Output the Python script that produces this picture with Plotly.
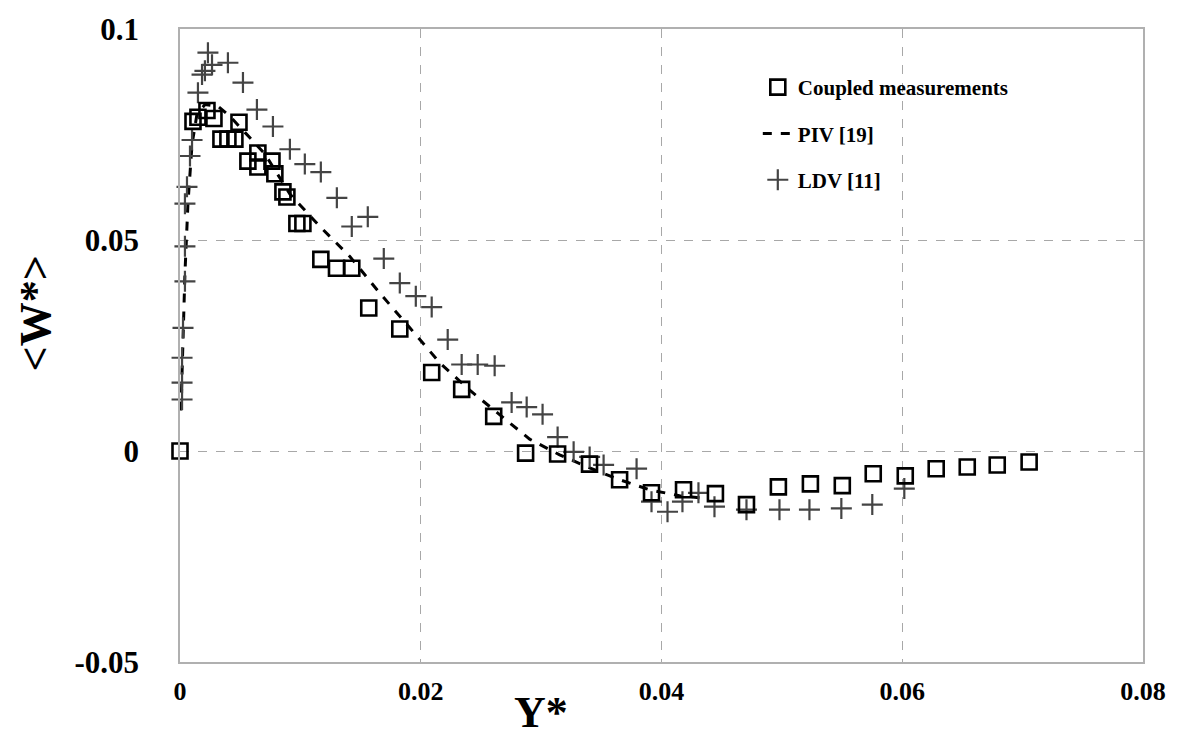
import plotly.graph_objects as go

# Coupled measurements (squares)
coupled_x = [0.0, 0.00108, 0.00149, 0.00224, 0.00282, 0.0034, 0.00398, 0.00456, 0.0049,
             0.00564, 0.00647, 0.00647, 0.00764, 0.00788, 0.00855, 0.00888, 0.00971, 0.01021,
             0.0117, 0.0130, 0.01427, 0.01568, 0.01826, 0.02091, 0.0234, 0.02606, 0.02871,
             0.03137, 0.03402, 0.03652, 0.03917, 0.04183, 0.04448, 0.04706, 0.04971, 0.05237,
             0.05502, 0.05759, 0.06025, 0.06282, 0.0654, 0.06789, 0.07054]
coupled_y = [0.0, 0.0781, 0.0791, 0.0807, 0.0788, 0.0739, 0.0739, 0.0739, 0.0779,
             0.0687, 0.0706, 0.0673, 0.0687, 0.0657, 0.0614, 0.0602, 0.0539, 0.0539,
             0.0454, 0.0433, 0.0433, 0.0339, 0.0289, 0.0186, 0.0146, 0.0082, -0.0005,
             -0.0007, -0.0031, -0.0068, -0.0099, -0.0092, -0.0101, -0.0127, -0.0085, -0.0078,
             -0.0082, -0.0054, -0.0059, -0.0042, -0.0038, -0.0033, -0.0026]

# PIV [19] (dashed line)
piv_x = [0.00008, 0.00025, 0.00041, 0.00066, 0.001, 0.00141, 0.00207, 0.00315, 0.00415,
         0.00539, 0.00705, 0.00913, 0.01162, 0.01411, 0.0166, 0.01909, 0.02158, 0.02407,
         0.02656, 0.02905, 0.03154, 0.03403, 0.03652, 0.03901, 0.0415, 0.04316]
piv_y = [0.0096, 0.0256, 0.0421, 0.0586, 0.0727, 0.0798, 0.0821, 0.0817, 0.0793,
         0.0755, 0.0704, 0.0609, 0.0532, 0.0461, 0.0374, 0.0292, 0.0209, 0.0144,
         0.0087, 0.0028, -0.0009, -0.0040, -0.0068, -0.0092, -0.0106, -0.0111]

# LDV [11] (plus markers)
ldv_x = [0.00017, 0.00017, 0.00017, 0.00025, 0.00041, 0.00041, 0.00041, 0.00058, 0.00083,
         0.001, 0.00149, 0.00183, 0.00207, 0.00266, 0.00232, 0.00398, 0.00523, 0.00639,
         0.00772, 0.00913, 0.01037, 0.0117, 0.01303, 0.01427, 0.0156, 0.01693, 0.01826,
         0.01959, 0.02091, 0.02224, 0.0234, 0.02473, 0.02614, 0.02755, 0.0288, 0.03012,
         0.03137, 0.0327, 0.03403, 0.03519, 0.03793, 0.03917, 0.0405, 0.04174, 0.04307,
         0.0444, 0.04706, 0.0498, 0.05229, 0.05494, 0.05751, 0.06017]
ldv_y = [0.0122, 0.0162, 0.0221, 0.0292, 0.0402, 0.0485, 0.0586, 0.0626, 0.0699,
         0.0737, 0.0849, 0.0892, 0.0901, 0.0915, 0.0944, 0.0920, 0.0873, 0.0809,
         0.0769, 0.0715, 0.0680, 0.0661, 0.0600, 0.0532, 0.0555, 0.0456, 0.0398,
         0.0367, 0.0341, 0.0264, 0.0205, 0.0205, 0.0202, 0.0115, 0.0104, 0.0087,
         0.0033, -0.0002, -0.0014, -0.0033, -0.0042, -0.0120, -0.0144, -0.0120, -0.0099,
         -0.0132, -0.0139, -0.0139, -0.0139, -0.0136, -0.0127, -0.0089]

x_ticks = [0, 0.02, 0.04, 0.06, 0.08]
x_ticktext = ["0", "0.02", "0.04", "0.06", "0.08"]
y_ticks = [-0.05, 0, 0.05, 0.1]
y_ticktext = ["-0.05", "0", "0.05", "0.1"]

FONT = "Liberation Serif"

fig = go.Figure()
fig.add_trace(go.Scatter(
    x=piv_x, y=piv_y, mode="lines", name="PIV [19]", legendgroup="b", legendrank=2,
    line=dict(color="black", width=3, dash="dash"), cliponaxis=False))
fig.add_trace(go.Scatter(
    x=ldv_x, y=ldv_y, mode="markers", name="LDV [11]", legendgroup="c", legendrank=3,
    marker=dict(symbol="cross-thin", size=15, color="#444444",
                line=dict(color="#444444", width=2.2)), cliponaxis=False))
fig.add_trace(go.Scatter(
    x=coupled_x, y=coupled_y, mode="markers", name="Coupled measurements", legendgroup="a",
    legendrank=1,
    marker=dict(symbol="square-open", size=15, color="black",
                line=dict(color="black", width=2.6)), cliponaxis=False))

grid = dict(showgrid=True, gridcolor="#a8a8a8", gridwidth=1, griddash="dash",
            zeroline=False, showline=True, linecolor="#b0b0b0", linewidth=1.5,
            mirror=True, ticks="")

fig.update_xaxes(range=[0, 0.08], tickvals=x_ticks, ticktext=x_ticktext,
                 tickfont=dict(family=FONT, size=26, color="black", weight="bold"),
                 ticklabelstandoff=5, **grid)
fig.update_yaxes(range=[-0.05, 0.1], tickvals=y_ticks, ticktext=y_ticktext,
                 tickfont=dict(family=FONT, size=31, color="black", weight="bold"),
                 ticklabelstandoff=33, **grid)

fig.add_annotation(text="Y*", xref="paper", yref="paper", x=0.375, y=-0.122,
                   xanchor="center", yanchor="bottom", showarrow=False,
                   font=dict(family=FONT, size=44, color="black", weight="bold"))
fig.add_annotation(text="&lt;W*&gt;", xref="paper", yref="paper", x=-0.15, y=0.55,
                   xanchor="center", yanchor="middle", showarrow=False, textangle=-90,
                   font=dict(family=FONT, size=44, color="black", weight="bold"))

fig.update_layout(
    width=1190, height=742,
    margin=dict(l=180, r=47, t=24, b=80),
    paper_bgcolor="white", plot_bgcolor="white",
    showlegend=True,
    legend=dict(x=0.6, y=0.94, xanchor="left", yanchor="top",
                bgcolor="rgba(0,0,0,0)", tracegroupgap=16,
                font=dict(family=FONT, size=21, color="black", weight="bold")),
)

fig.write_html("out.html")
